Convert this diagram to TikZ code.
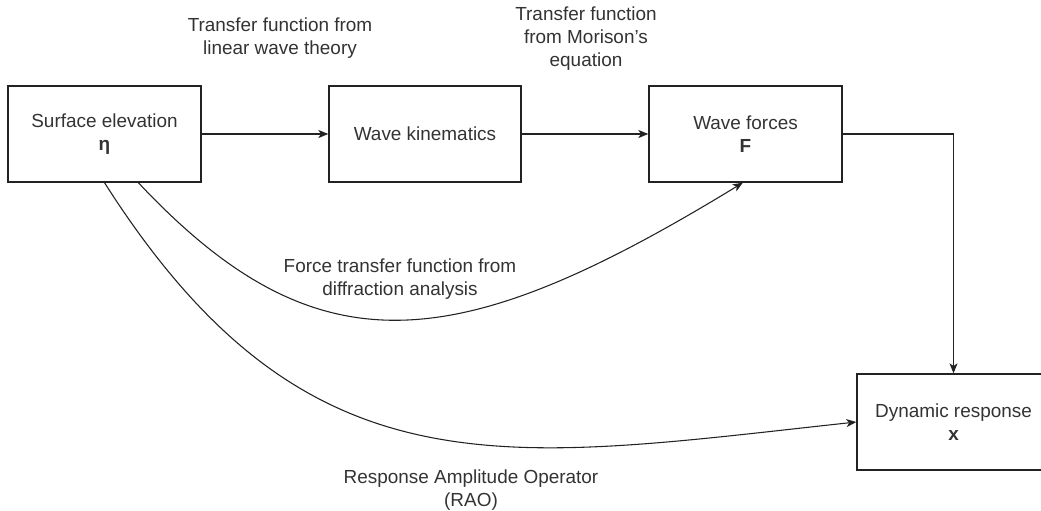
\documentclass[tikz,border=0pt]{standalone}
\usepackage{fontspec}
\setmainfont{Liberation Sans}
\usetikzlibrary{arrows.meta}
\definecolor{txt}{RGB}{51,51,51}
\definecolor{ln}{RGB}{34,34,34}
\newcommand{\diafont}{\fontsize{14.2}{17.2}\selectfont}
\begin{document}
\begin{tikzpicture}[x=0.75pt,y=-0.75pt,
  box/.style={draw=ln, line width=1pt, rectangle, minimum width=144.75pt, minimum height=72pt, inner sep=0pt, align=center, text=txt, font=\diafont},
  lbl/.style={align=center, text=txt, font=\diafont, inner sep=0pt},
  conn/.style={draw=ln, line width=0.8pt, -{Stealth[length=7.5pt,width=6pt,inset=2pt]}}]
\useasboundingbox (0,0) rectangle (1041,510);
\fill[white] (0,0) rectangle (1041,510);
% boxes
\node[box] (b1) at (104.5,134) {Surface elevation\\\textbf{η}};
\node[box, minimum width=144pt] (b2) at (425,134) {Wave kinematics};
\node[box] (b3) at (745.5,134) {Wave forces\\\textbf{F}};
\node[box] (b4) at (953.5,422) {Dynamic response\\\textbf{x}};
% labels
\node[lbl] (l1) at (280,38.5) {Transfer function from\\linear wave theory};
\node[lbl] (l2) at (586,38.5) {Transfer function\\from Morison's\\equation};
\node[lbl] (l3) at (400,279) {Force transfer function from\\diffraction analysis};
\node[lbl] (l4) at (471,490) {Response Amplitude Operator\\(RAO)};
% connectors
\draw[conn] (b1) -- (b2);
\draw[conn] (b2) -- (b3);
\draw[conn] (b3.east) -| (b4.north);
\draw[conn] ([xshift=98.25pt]b1.south west) .. controls (317,373) and (456,358) .. ([xshift=-2pt]b3.south);
\draw[conn] (b1.south) .. controls (307,501) and (505,460) .. (b4.west);
\end{tikzpicture}
\end{document}
